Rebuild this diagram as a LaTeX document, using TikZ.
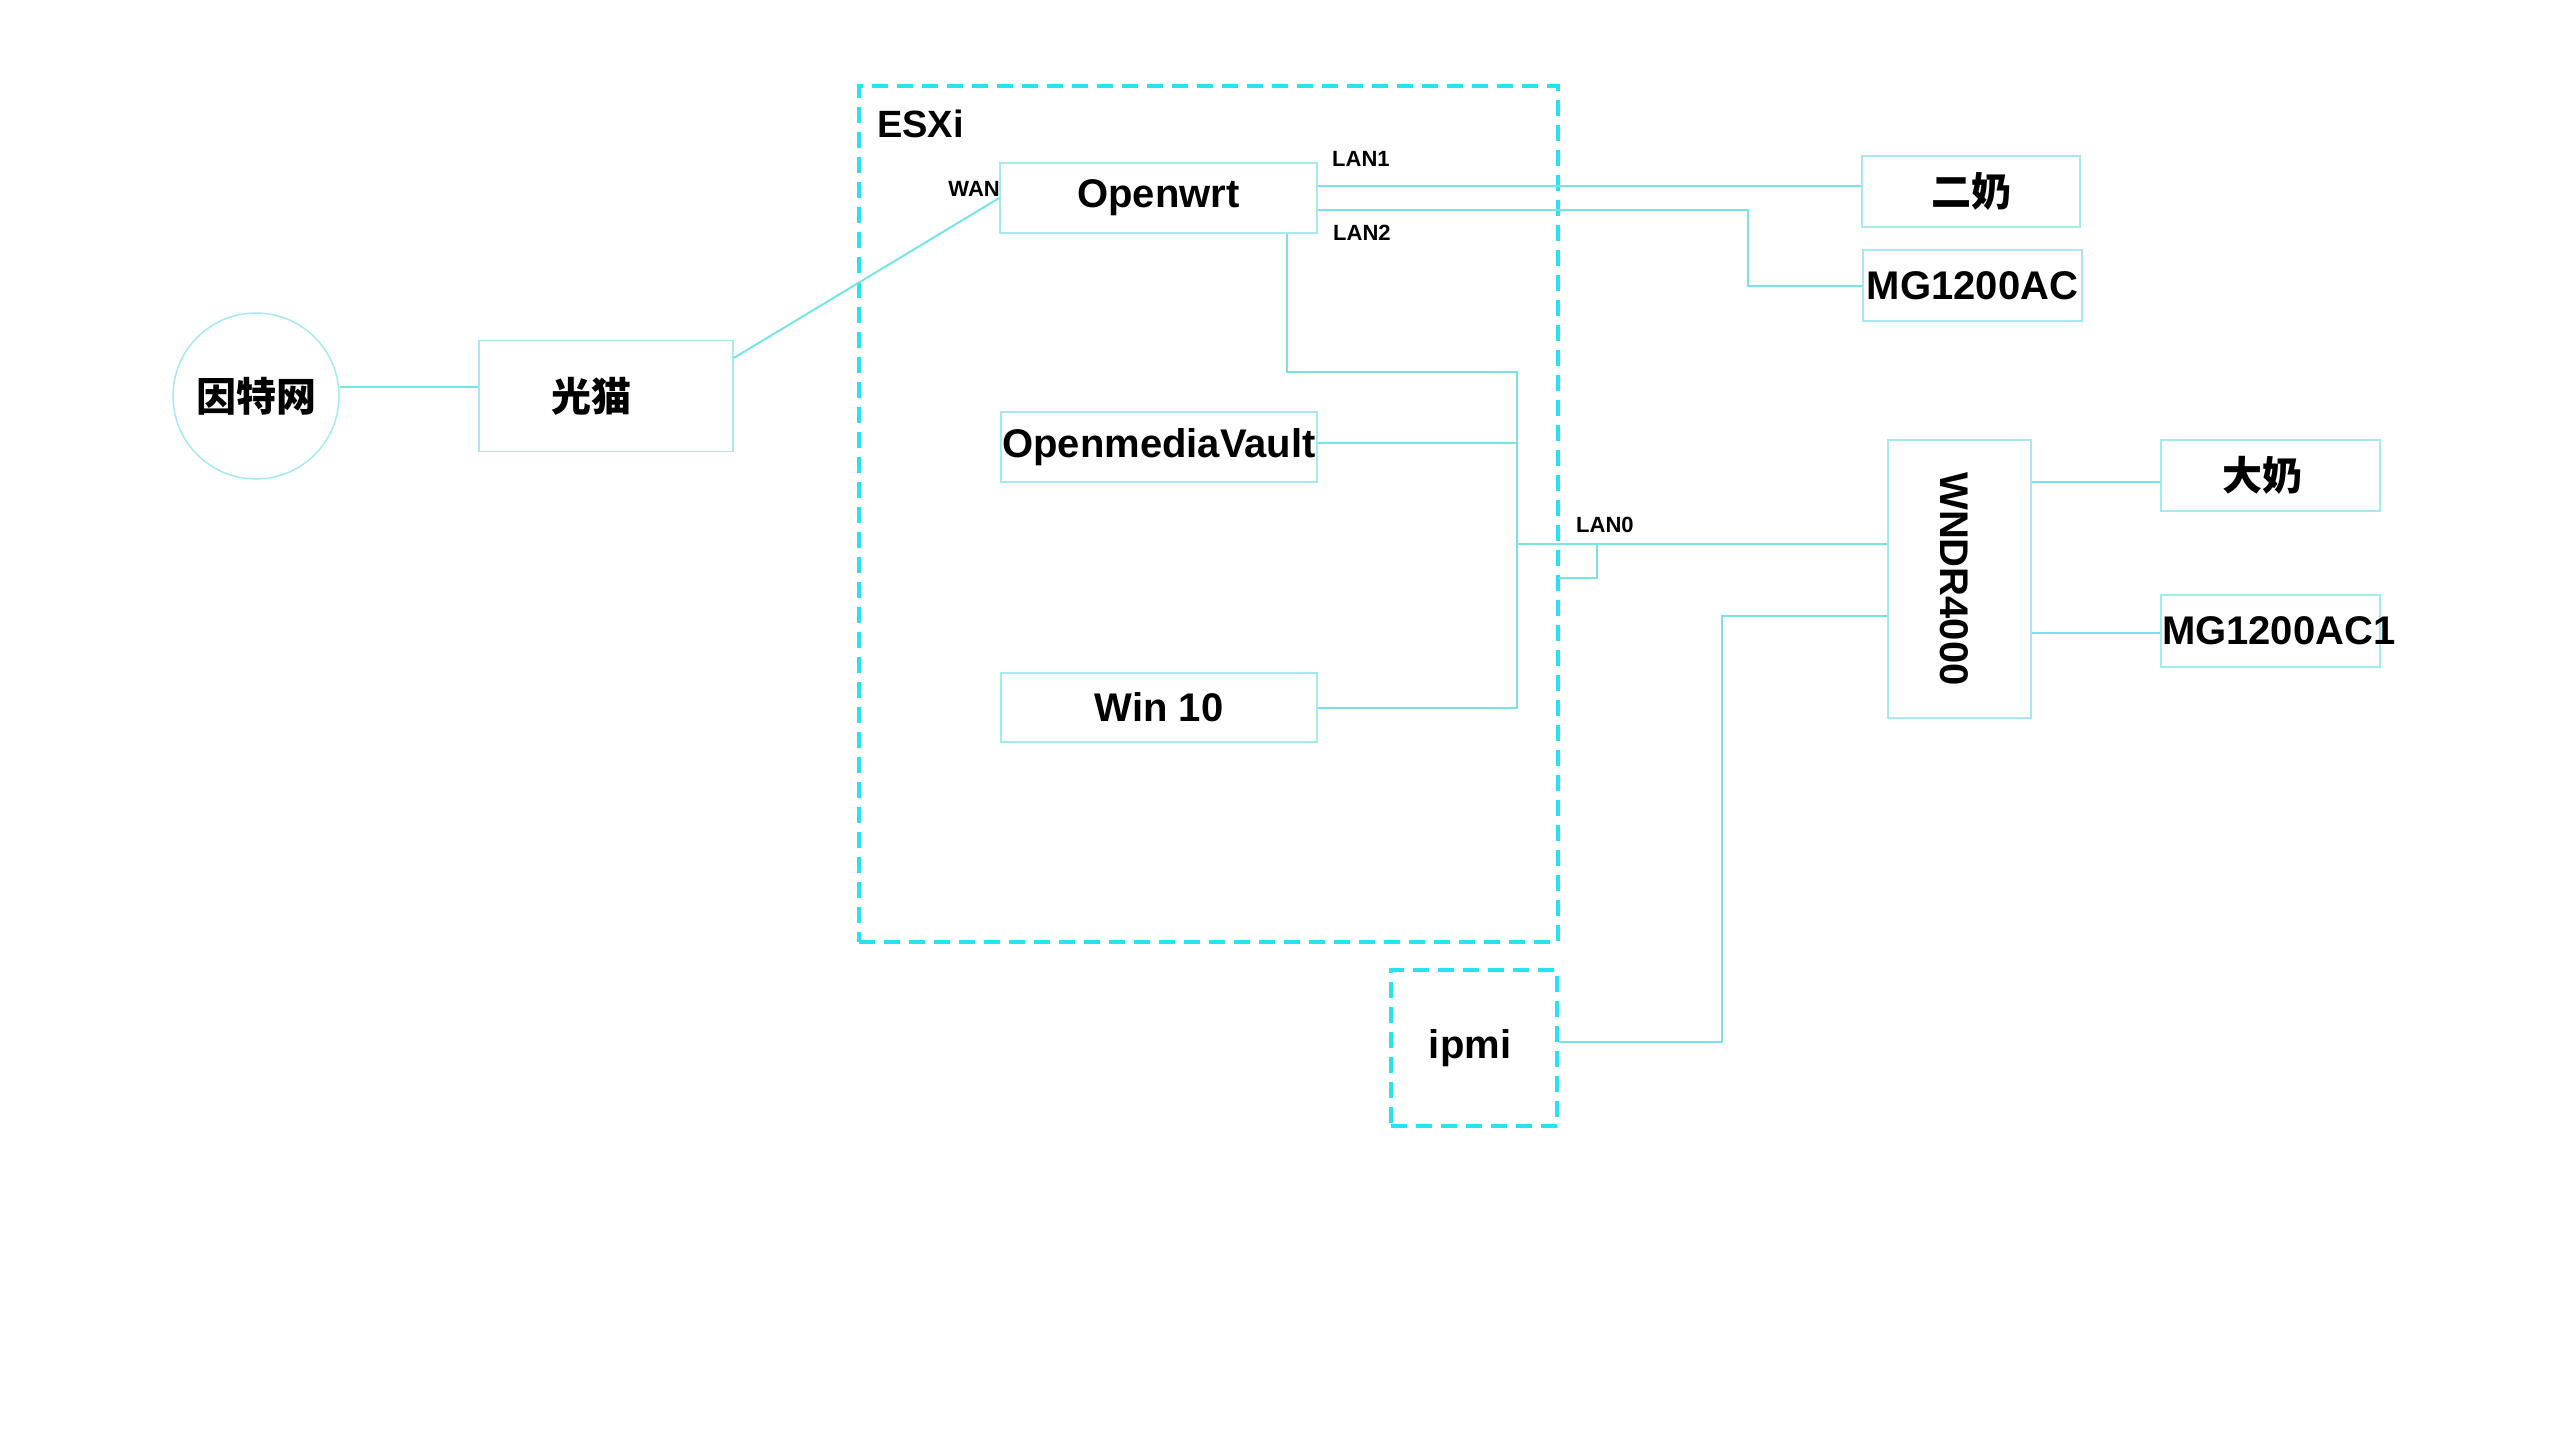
\documentclass[tikz,border=0pt]{standalone}
\usepackage{fontspec}
\usepackage{graphicx}
\setmainfont{Liberation Sans}
\newfontfamily\cjk{Noto Sans CJK SC}
\definecolor{dashcol}{RGB}{35,228,240}
\definecolor{wirecol}{RGB}{120,228,234}
\definecolor{boxcol}{RGB}{165,234,240}
\tikzset{
  box/.style={draw=boxcol, line width=1.5pt, inner sep=0pt, font=\fontsize{40}{48}\selectfont\bfseries},
  vmbox/.style={draw=dashcol, line width=4pt, dash pattern=on 16pt off 9pt, inner sep=0pt, font=\fontsize{40}{48}\selectfont\bfseries},
  wire/.style={draw=wirecol, line width=2pt},
  port/.style={inner sep=0pt, font=\fontsize{22}{26}\selectfont\bfseries},
}
\begin{document}
\begin{tikzpicture}[x=1pt,y=-1pt]
\fill[white] (0,0) rectangle (2560,1440);
\useasboundingbox (0,0) rectangle (2560,1440);

% containers
\node[vmbox, minimum width=699pt, minimum height=856pt] (esxi) at (1208.5,514) {};
\node[port, anchor=base west, font=\fontsize{38}{44}\selectfont\bfseries] (esxilabel) at (877,137) {ESXi};
\node[vmbox, minimum width=166pt, minimum height=156pt] (ipmi) at (1474,1048) {ipmi\kern8pt};

% devices
\node[box, circle, minimum size=166pt] (net) at (256,396) {\cjk\bfseries 因特网};
\node[box, minimum width=254pt, minimum height=111pt] (modem) at (606,396) {\cjk\bfseries 光猫\kern30pt};
\node[box, minimum width=317pt, minimum height=70pt] (openwrt) at (1158.5,198) {Openwrt};
\node[box, minimum width=316pt, minimum height=70pt] (omv) at (1159,447) {OpenmediaVault};
\node[box, minimum width=316pt, minimum height=69pt] (win) at (1159,707.5) {Win 10};
\node[box, minimum width=218pt, minimum height=71pt] (erna) at (1971,191.5) {\cjk\bfseries 二奶};
\node[box, minimum width=219pt, minimum height=71pt] (mg1) at (1972.5,285.5) {MG1200AC};
\node[box, minimum width=143pt, minimum height=278pt] (wndr) at (1959.5,579) {\rotatebox{-90}{WNDR4000}\kern10pt};
\node[box, minimum width=219pt, minimum height=71pt] (danai) at (2270.5,475.5) {\cjk\bfseries 大奶\kern16pt};
\node[box, minimum width=219pt, minimum height=72pt] (mg2) at (2270.5,631) {\makebox[219pt][l]{\kern1pt MG1200AC1}};

% port labels
\node[port, anchor=base east] (wan) at (1000,196) {WAN};
\node[port, anchor=base west] (lan1) at (1332,166) {LAN1};
\node[port, anchor=base west] (lan2) at (1333,240) {LAN2};
\node[port, anchor=base west] (lan0) at (1576,532) {LAN0};

% helper coordinates
\coordinate (l1) at ([yshift=12pt]openwrt.east);
\coordinate (l2) at ([yshift=-12pt]openwrt.east);
\coordinate (bustop) at (1517,372);
\coordinate (bus) at (1517,544);
\coordinate (stub) at (1559,578);
\coordinate (stubend) at (1597,544);
\coordinate (ipmicorner) at (1722,616);

% connectors
\draw[wire] ([yshift=9pt]net.east) -- ([yshift=9pt]modem.west);
\draw[wire] ([yshift=38pt]modem.east) -- (openwrt.west);
\draw[wire] (l1) -- (l1 -| erna.west);
\draw[wire] (l2) -| ([xshift=-114pt]mg1.west) -- (mg1.west);
\draw[wire] ([xshift=128pt]openwrt.south) |- (bustop) -- (bus);
\draw[wire] ([yshift=4pt]omv.east) -- ([yshift=4pt]omv.east -| bus);
\draw[wire] (win.east) -| (bus);
\draw[wire] (bus) -- (bus -| wndr.west);
\draw[wire] (stub) -| (stubend);
\draw[wire] ([yshift=6pt]ipmi.east) -| (ipmicorner) -- (ipmicorner -| wndr.west);
\draw[wire] ([yshift=-6pt]danai.west -| wndr.east) -- ([yshift=-6pt]danai.west);
\draw[wire] ([yshift=-2pt]mg2.west -| wndr.east) -- ([yshift=-2pt]mg2.west);
\end{tikzpicture}
\end{document}
